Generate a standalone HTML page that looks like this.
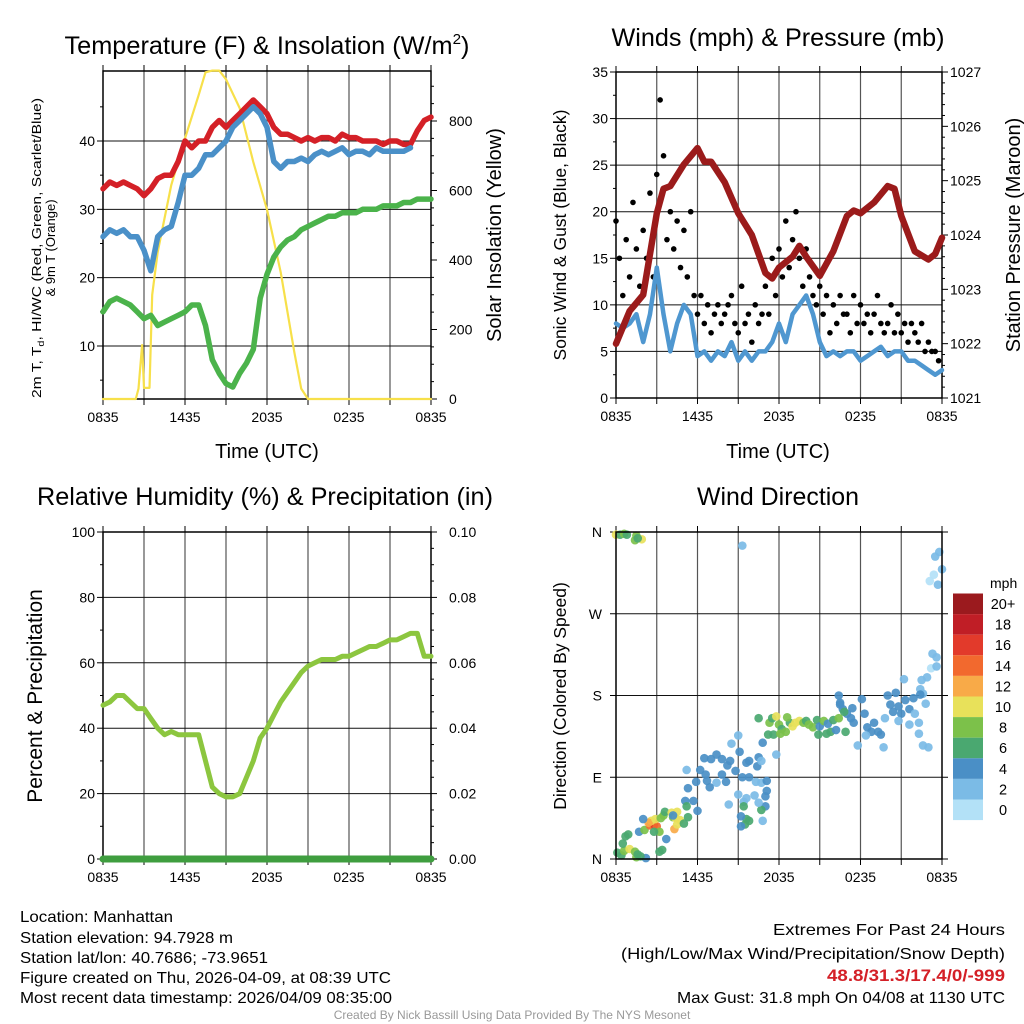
<!DOCTYPE html>
<html><head><meta charset="utf-8"><style>
html,body{margin:0;padding:0;background:#fff;}
svg{display:block;font-family:"Liberation Sans",sans-serif;}
</style></head><body>
<svg id="chart" width="1024" height="1024" viewBox="0 0 1024 1024" xmlns="http://www.w3.org/2000/svg">
<rect width="1024" height="1024" fill="#fff"/>
<g id="layer"></g>
<text x="267" y="54" font-size="25" text-anchor="middle" textLength="405" lengthAdjust="spacingAndGlyphs">Temperature (F) &amp; Insolation (W/m<tspan dy="-10" font-size="15">2</tspan><tspan dy="10">)</tspan></text>
<text x="778" y="46" font-size="25" text-anchor="middle" textLength="333" lengthAdjust="spacingAndGlyphs">Winds (mph) &amp; Pressure (mb)</text>
<text x="265" y="505" font-size="25" text-anchor="middle" textLength="456" lengthAdjust="spacingAndGlyphs">Relative Humidity (%) &amp; Precipitation (in)</text>
<text x="778" y="505" font-size="25" text-anchor="middle" textLength="162" lengthAdjust="spacingAndGlyphs">Wind Direction</text>
<text x="267" y="458" font-size="20" text-anchor="middle">Time (UTC)</text>
<text x="778" y="458" font-size="20" text-anchor="middle">Time (UTC)</text>
<g font-size="13" text-anchor="middle">
<text transform="translate(41,248) rotate(-90)" textLength="300" lengthAdjust="spacingAndGlyphs">2m T, T<tspan dy="3" font-size="9">d</tspan><tspan dy="-3">, HI/WC (Red, Green, Scarlet/Blue)</tspan></text>
<text transform="translate(55,248) rotate(-90)">&amp; 9m T (Orange)</text>
</g>
<text transform="translate(501,235) rotate(-90)" font-size="20" text-anchor="middle">Solar Insolation (Yellow)</text>
<text transform="translate(566,235) rotate(-90)" font-size="17.5" text-anchor="middle">Sonic Wind &amp; Gust (Blue, Black)</text>
<text transform="translate(1020,235) rotate(-90)" font-size="20" text-anchor="middle">Station Pressure (Maroon)</text>
<text transform="translate(42,696) rotate(-90)" font-size="21" text-anchor="middle">Percent &amp; Precipitation</text>
<text transform="translate(566,696) rotate(-90)" font-size="17.5" text-anchor="middle">Direction (Colored By Speed)</text>
<g font-size="16">
<text x="20" y="922" textLength="153" lengthAdjust="spacingAndGlyphs">Location: Manhattan</text>
<text x="20" y="943" textLength="213" lengthAdjust="spacingAndGlyphs">Station elevation: 94.7928 m</text>
<text x="20" y="963" textLength="248" lengthAdjust="spacingAndGlyphs">Station lat/lon: 40.7686; -73.9651</text>
<text x="20" y="983" textLength="371" lengthAdjust="spacingAndGlyphs">Figure created on Thu, 2026-04-09, at 08:39 UTC</text>
<text x="20" y="1003" textLength="372" lengthAdjust="spacingAndGlyphs">Most recent data timestamp: 2026/04/09 08:35:00</text>
</g>
<g font-size="16" text-anchor="end">
<text x="1005" y="935" textLength="232" lengthAdjust="spacingAndGlyphs">Extremes For Past 24 Hours</text>
<text x="1005" y="959" textLength="384" lengthAdjust="spacingAndGlyphs">(High/Low/Max Wind/Precipitation/Snow Depth)</text>
<text x="1005" y="981" fill="#d42027" font-weight="bold" font-size="17" textLength="178" lengthAdjust="spacingAndGlyphs">48.8/31.3/17.4/0/-999</text>
<text x="1005" y="1003" textLength="328" lengthAdjust="spacingAndGlyphs">Max Gust: 31.8 mph On 04/08 at 1130 UTC</text>
</g>
<text x="512" y="1019" font-size="12" fill="#999" text-anchor="middle">Created By Nick Bassill Using Data Provided By The NYS Mesonet</text>
</svg>
<script>
// ---- data (half-hour steps from 0835 UTC) ----
const timeLabels=["0835","1435","2035","0235","0835"];
const tempRed=[33,34,33.5,34,33.5,33,32,33,34.5,35,35,37,40,39,40,40,42,43,42,43,44,45,46,45,44,42,41,41,40.5,40,40.5,40,40.5,40.5,40,41,40.5,40.5,40,40,40,39.5,40,40,39.5,39.5,41.5,43,43.5];
const tempBlue=[26,27,26.5,27,26,26,24,21,26,27,27.5,31,35,35,36,38,38,39,40,42,43,44,45,44,42,37,36,37,37,37.5,37,38,38.5,38,38.5,39,38,38.5,38.5,38,39,38.5,38.5,38.5,38.5,39];
const tempGreen=[15,16.5,17,16.5,16,15,14,14.5,13,13.5,14,14.5,15,16,16,13,8,6,4.5,4,6,7.5,9.5,17,20.5,23,24.5,25.5,26,27,27.5,28,28.5,29,29,29.5,29.5,29.5,30,30,30,30.5,30.5,30.5,31,31,31.5,31.5,31.5];
const solarHours=[0,2.4,2.6,2.86,3.0,3.4,3.6,4,5,6,7,7.5,8,8.5,9,10,11,12,13,14,14.5,15,24];
const solarVals=[0,0,30,155,32,32,300,423,616,750,875,940,945,945,920,837,682,545,365,135,30,0,0];
const windSpeed=[8,7.5,8,9,6,9,14,9,5,8,10,9,4.5,5,4,5,4.5,6,4,5,4,5,5,6,8,6,9,10,11,9,6,4.5,5,4.5,5,5,4,4.5,5,5.5,4.5,5,5,4,4,3.5,3,2.5,3];
const gustVals=[19,15,11,17,13,21,16,12,18,15,22,13,24,32,26,17,20,16,19,14,18,13,20,11,9,11,8,10,7,9,10,8,9,10,11,8,7,12,8,9,6,10,8,9,12,9,15,11,16,13,19,14,17,20,15,12,16,13,11,10,12,9,11,7,10,8,11,9,9,7,11,8,10,8,9,7,9,11,8,7,8,10,7,9,7,8,6,8,7,6,8,5,6,5,5,4];
const pressHours=[0,1,2,3,3.5,4,5,6,6.5,7,8,9,10,11,11.5,12,13,13.5,14,15,16,17,17.5,18,19,20,20.5,21,22,23,23.5,24];
const pressVals=[1022.0,1022.6,1022.9,1024.4,1024.85,1024.9,1025.3,1025.6,1025.35,1025.35,1024.97,1024.4,1024.0,1023.3,1023.2,1023.4,1023.6,1023.8,1023.6,1023.25,1023.7,1024.35,1024.45,1024.4,1024.6,1024.9,1024.85,1024.35,1023.7,1023.55,1023.65,1023.95];
const rhVals=[47,48,50,50,48,46,46,43,40,38,39,38,38,38,38,30,22,20,19,19,20,25,30,37,40,44,48,51,54,57,59,60,61,61,61,62,62,63,64,65,65,66,67,67,68,69,69,62,62];
const precipVals=[0,0,0,0,0,0,0,0,0,0,0,0,0,0,0,0,0,0,0,0,0,0,0,0,0,0,0,0,0,0,0,0,0,0,0,0,0,0,0,0,0,0,0,0,0,0,0,0,0];
const dirHours=[0,0.3,0.6,0.8,1.5,1.4,1.9,1.6,9.3,23.5,23.8,23.4,23.1,23.7,24,23.3,23.6,23.2,23.6,22.9,22.5,21.2,22.4,22.6,22.8,21.9,22.4,16.4,16.5,16.7,17.0,17.3,17.5,18.1,18.3,18.5,18.8,19.0,19.3,19.5,19.8,20,20.2,20.4,20.6,20.8,21.0,21.3,21.6,22.0,22.3,21.6,20.8,19.7,18.4,17.8,22.3,22.6,23.0,16.8,16.5,17.4,10.5,11.3,11.5,11.8,12.0,12.2,12.5,12.8,13.0,13.2,13.5,13.8,14.0,14.2,14.5,14.8,15.0,15.3,15.6,16.0,16.4,15.5,15.8,16.2,11.2,11.6,12.1,14.9,16.9,12.6,11.8,10.8,9.0,8.5,9.1,6.5,7.0,7.4,7.8,8.2,8.4,9.8,10.4,10.5,10.7,9.6,8.8,9.3,9.8,10.3,10.7,11.1,11.1,11.0,11.0,10.7,10.2,10.5,9.6,9.4,9.6,9.2,9.5,9.2,9.8,10.8,7.4,6.9,6.7,5.9,5.3,5.1,5.7,5.3,6.0,5.2,6.2,6.6,7.8,8.1,9.4,8.3,9.0,0.1,0.4,0.6,1.0,1.4,1.5,2.2,1.8,1.6,0.7,0.9,0.5,1.7,2.1,2.5,2.7,2.8,3.0,2.6,2.4,2.9,3.3,3.5,3.6,4.1,4.2,4.5,4.4,4.7,4.3,4.5,5.0,5.2,3.2,2.8,3.7,3.4,3.2,2.0,4.2];
const dirVals=[357,357,358,357,356,351,352,353,345,333,338,313,306,302,319,226,222,210,212,200,197,198,187,182,171,177,181,180,172,165,160,155,150,176,160,145,140,150,140,137,155,180,170,162,183,168,160,175,165,160,150,148,152,123,136,125,138,125,123,162,170,166,155,150,155,157,148,143,140,150,146,150,152,150,152,148,145,153,146,152,149,153,155,138,140,142,137,137,138,137,140,156,115,128,136,127,118,111,110,115,110,103,108,108,102,112,108,106,97,90,90,85,84,86,75,69,58,54,70,62,67,63,44,47,38,36,42,42,84,79,86,85,78,64,64,46,53,98,98,93,93,85,58,60,71,7,4,9,11,8,2,1,3,5,25,27,17,30,32,37,40,38,36,42,40,44,45,48,52,51,46,52,45,43,33,38,39,58,30,30,22,10,8,44,48];
const dirSpeeds=[10,7,8,7,8,8,10,7,3,3,3,1,1,3,3,3,3,1,3,3,3,3,3,3,3,4,4,4,4,4,4,4,4,4,4,4,4,4,4,4,3,4,4,4,4,4,4,4,4,3,3,3,3,3,3,3,3,3,3,6,4,4,6,8,6,10,8,6,8,6,10,10,10,8,6,8,8,6,4,8,4,6,8,6,6,4,6,6,8,6,6,8,3,4,3,3,4,4,4,4,4,4,4,4,4,4,3,4,4,4,4,3,3,4,4,4,4,6,3,3,3,3,6,4,6,4,6,3,3,4,4,4,4,4,4,6,4,3,4,4,4,4,6,3,3,6,6,8,10,8,8,4,6,6,6,6,6,4,8,14,18,16,14,10,12,10,8,8,6,10,8,10,10,10,12,10,6,6,8,6,4,6,6,4,4];
const cbLabels=["20+","18","16","14","12","10","8","6","4","2","0"];
const cbColors=["#9b1a1e","#c01e26","#e23a2b","#f2692e","#f8aa48","#e8e15a","#7cc14a","#4aa870","#4a8fc6","#7bbbe6","#b3e1f7"];

const NS="http://www.w3.org/2000/svg";
const layer=document.getElementById('layer');
function mk(tag,attrs,parent){const e=document.createElementNS(NS,tag);for(const k in attrs)e.setAttribute(k,attrs[k]);(parent||layer).appendChild(e);return e;}
function lin(d0,d1,r0,r1){return v=>r0+(v-d0)/(d1-d0)*(r1-r0);}
function poly(xs,ys,xf,yf,color,w,name){
  let d='';for(let i=0;i<ys.length;i++){d+=(i?'L':'M')+xf(xs[i]).toFixed(1)+','+yf(ys[i]).toFixed(1);}
  const p=mk('path',{d:d,fill:'none',stroke:color,'stroke-width':w,'stroke-linejoin':'round','stroke-linecap':'round'});
  
  
  return p;
}
const half=a=>a.map((_,i)=>i*0.5);

function frame(P,name,leftTicks,lf,leftMinor,hgrid){
  const g=mk('g',{});
  
  
  const xf=lin(0,24,P.x0,P.x1);
  for(let h=3;h<24;h+=3){const l=mk('line',{x1:xf(h),x2:xf(h),y1:P.y0,y2:P.y1,stroke:'#555','stroke-width':1.2},g);}
  hgrid.forEach(v=>{const l=mk('line',{x1:P.x0,x2:P.x1,y1:lf(v),y2:lf(v),stroke:'#111','stroke-width':1},g);});
  for(let h=0;h<=24;h+=3){mk('line',{x1:xf(h),x2:xf(h),y1:P.y1,y2:P.y1+6,stroke:'#000'},g);mk('line',{x1:xf(h),x2:xf(h),y1:P.y0,y2:P.y0-6,stroke:'#000'},g);}
  timeLabels.forEach((t,i)=>{const tx=mk('text',{x:xf(i*6),y:P.y1+23,'font-size':14,'text-anchor':'middle'},g);tx.textContent=t;});
  leftTicks.forEach(v=>{mk('line',{x1:P.x0-6,x2:P.x0,y1:lf(v),y2:lf(v),stroke:'#000'},g);});
  leftMinor.forEach(v=>{mk('line',{x1:P.x0-3,x2:P.x0,y1:lf(v),y2:lf(v),stroke:'#000'},g);});
  return {g,xf};
}

// Panel 1
(function(){
  const P={x0:103,x1:431,y0:71,y1:399};
  const lf=lin(10,40,346,141), rf=lin(0,800,399,121);
  const {g,xf}=frame(P,'temperature-panel',[10,20,30,40],lf,[5,15,25,35,45],[10,20,30,40]);
  [10,20,30,40].forEach(v=>{const t=mk('text',{x:P.x0-8,y:lf(v)+5,'font-size':14,'text-anchor':'end'},g);t.textContent=v;});
  for(let v=0;v<=900;v+=50){const big=v%200==0;mk('line',{x1:P.x1,x2:P.x1+(big?6:3),y1:rf(v),y2:rf(v),stroke:'#000'},g);
    if(big){const t=mk('text',{x:P.x1+18,y:rf(v)+5,'font-size':14},g);t.textContent=v;}}
  poly(solarHours,solarVals,xf,rf,'#f7e04a',2.2,'solar-line');
  poly(half(tempGreen),tempGreen,xf,lf,'#4bb34b',5.5,'dewpoint-line');
  poly(half(tempRed),tempRed,xf,lf,'#d42027',5.5,'temperature-line');
  poly(half(tempBlue),tempBlue,xf,lf,'#4a90c8',5.5,'heat-index-line');
  mk('rect',{x:P.x0,y:P.y0,width:P.x1-P.x0,height:P.y1-P.y0,fill:'none',stroke:'#000','stroke-width':1.5},g);
})();

// Panel 2
(function(){
  const P={x0:616,x1:942,y0:72,y1:398};
  const lf=lin(0,35,398,72), rf=lin(1021,1027,398,72);
  const lt=[0,5,10,15,20,25,30,35];
  const {g,xf}=frame(P,'wind-panel',lt,lf,[2.5,7.5,12.5,17.5,22.5,27.5,32.5],[5,10,15,20,25,30]);
  lt.forEach(v=>{const t=mk('text',{x:P.x0-8,y:lf(v)+5,'font-size':14,'text-anchor':'end'},g);t.textContent=v;});
  for(let k=0;k<=30;k++){const v=1021+k*0.2;const big=k%5==0;mk('line',{x1:P.x1,x2:P.x1+(big?6:3),y1:rf(v),y2:rf(v),stroke:'#000'},g);
    if(big){const t=mk('text',{x:P.x1+8,y:rf(v)+5,'font-size':14},g);t.textContent=Math.round(v);}}
  poly(half(windSpeed),windSpeed,xf,lf,'#4f97d0',4.5,'sonic-wind-line');
  gustVals.forEach((v,i)=>{const c=mk('circle',{cx:xf(i*0.25),cy:lf(v),r:2.8,fill:'#000'},g);});
  poly(pressHours,pressVals,xf,rf,'#9b1b1b',6.5,'pressure-line');
  mk('rect',{x:P.x0,y:P.y0,width:P.x1-P.x0,height:P.y1-P.y0,fill:'none',stroke:'#000','stroke-width':1.5},g);
})();

// Panel 3
(function(){
  const P={x0:103,x1:431,y0:532,y1:859};
  const lf=lin(0,100,859,532), rf=lin(0,0.1,859,532);
  const lt=[0,20,40,60,80,100];
  const {g,xf}=frame(P,'humidity-panel',lt,lf,[10,30,50,70,90],[20,40,60,80]);
  lt.forEach(v=>{const t=mk('text',{x:P.x0-8,y:lf(v)+5,'font-size':14,'text-anchor':'end'},g);t.textContent=v;});
  for(let k=0;k<=20;k++){const v=k*0.005;const big=k%4==0;mk('line',{x1:P.x1,x2:P.x1+(big?6:3),y1:rf(v),y2:rf(v),stroke:'#000'},g);
    if(big){const t=mk('text',{x:P.x1+18,y:rf(v)+5,'font-size':14},g);t.textContent=v.toFixed(2);}}
  poly(half(rhVals),rhVals,xf,lf,'#8cc63f',5,'humidity-line');
  poly(half(precipVals),precipVals,xf,rf,'#3f9e3f',7,'precip-line');
  mk('rect',{x:P.x0,y:P.y0,width:P.x1-P.x0,height:P.y1-P.y0,fill:'none',stroke:'#000','stroke-width':1.5},g);
})();

// Panel 4
(function(){
  const P={x0:616,x1:942,y0:532,y1:859};
  const lf=lin(0,360,859,532);
  const lt=[0,90,180,270,360], names=["N","E","S","W","N"];
  const {g,xf}=frame(P,'direction-panel',lt,lf,[],[90,180,270]);
  lt.forEach((v,i)=>{const t=mk('text',{x:P.x0-14,y:lf(v)+5,'font-size':14,'text-anchor':'end'},g);t.textContent=names[i];
    mk('line',{x1:P.x1,x2:P.x1+6,y1:lf(v),y2:lf(v),stroke:'#000'},g);});
  dirVals.forEach((d,i)=>{const s=dirSpeeds[i];const idx=Math.min(10,Math.floor(s/2));
    const c=mk('circle',{cx:xf(dirHours[i]),cy:lf(d),r:4.3,fill:cbColors[10-idx],'fill-opacity':0.92},g);
    
    });
  mk('rect',{x:P.x0,y:P.y0,width:P.x1-P.x0,height:P.y1-P.y0,fill:'none',stroke:'#000','stroke-width':1.5},g);
  const cb=mk('g',{});
  
  
  const m=mk('text',{x:990,y:588,'font-size':14},cb);m.textContent='mph';
  cbLabels.forEach((l,i)=>{const y=593.5+i*20.6;
    const r=mk('rect',{x:953,y:y,width:30,height:20.6,fill:cbColors[i]},cb);
    
    
    const t=mk('text',{x:1003,y:y+15.5,'font-size':14.5,'text-anchor':'middle'},cb);t.textContent=l;
    
    });
})();
</script>
</body></html>
